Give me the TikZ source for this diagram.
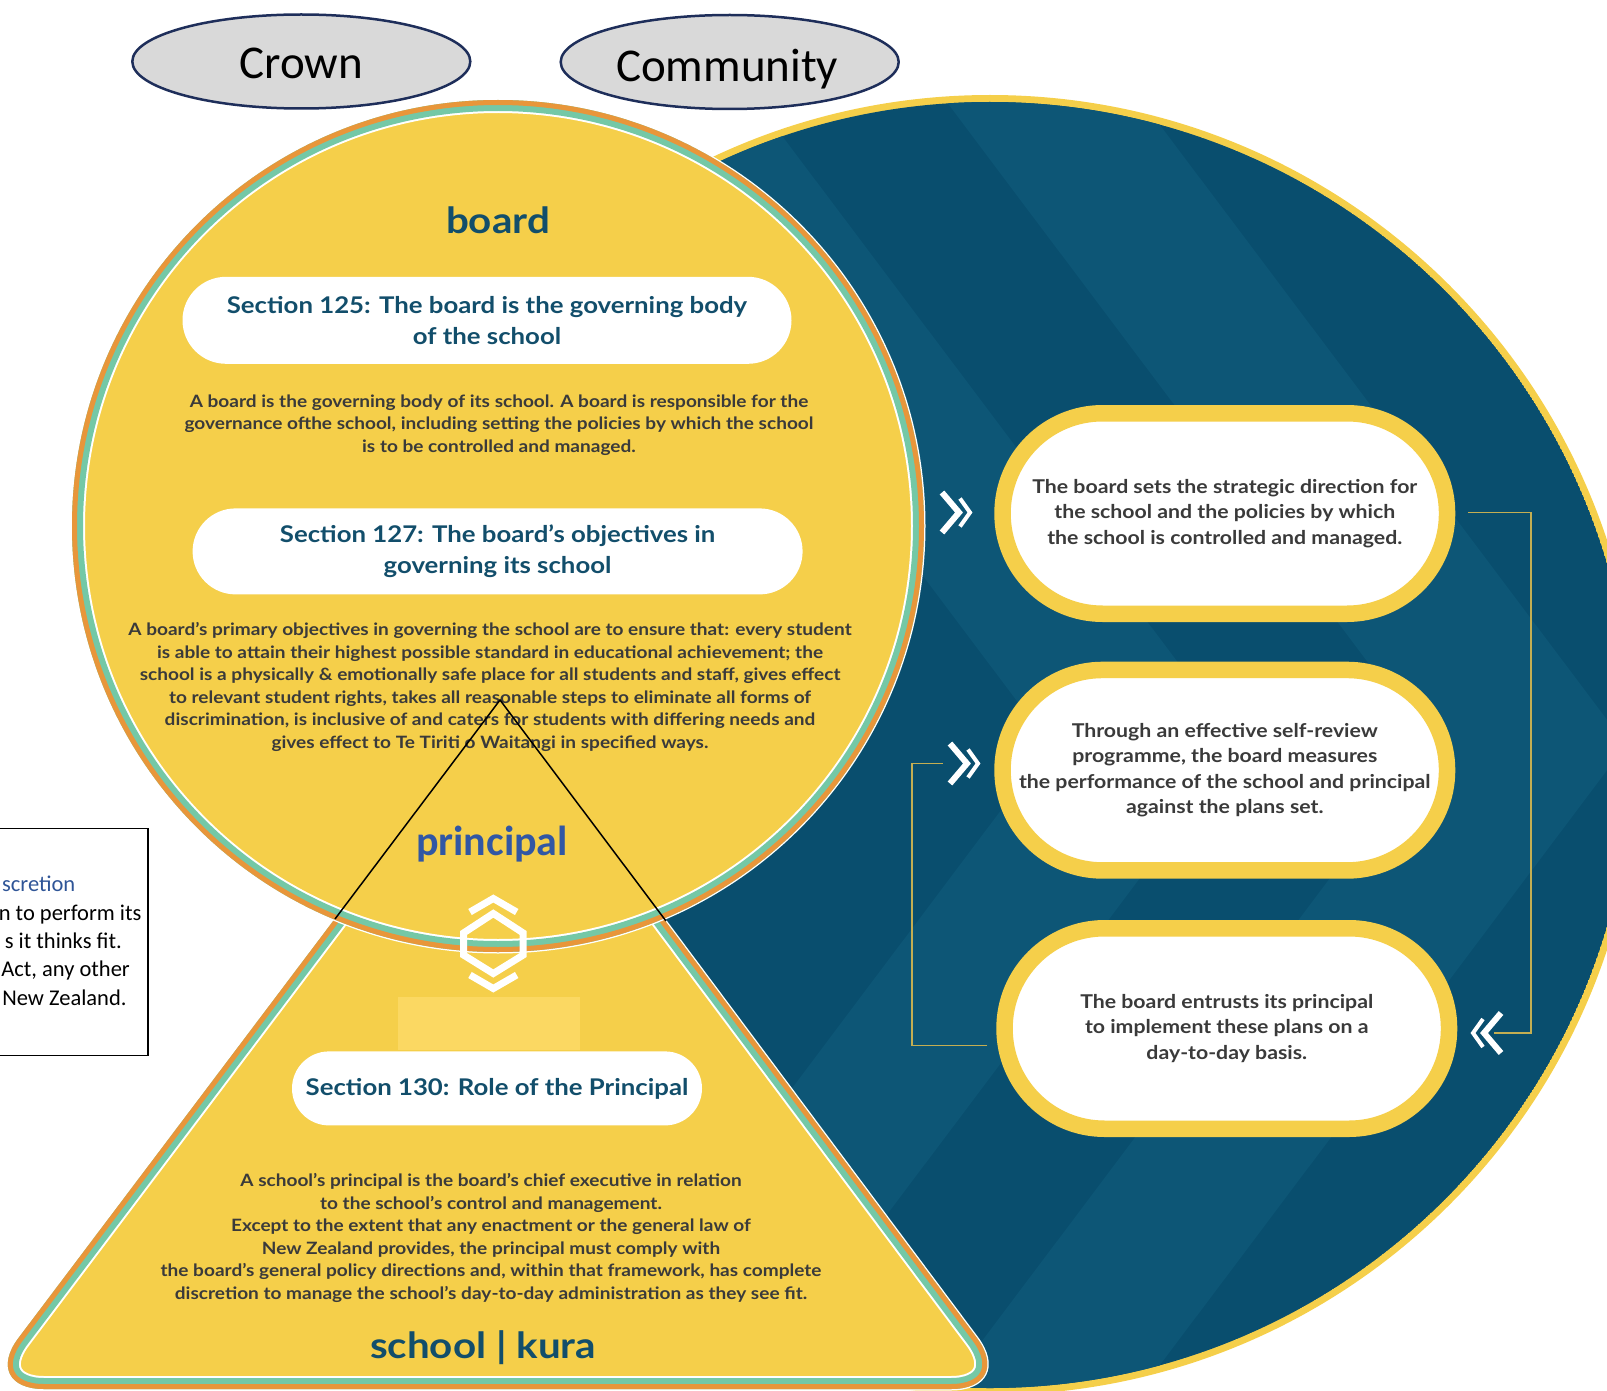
\documentclass[tikz,border=0pt]{standalone}
\usepackage{fontspec}
\setmainfont{Lato}[FakeStretch=1.12]
\newfontfamily\calfont{Carlito}
\usetikzlibrary{shapes.geometric}

\definecolor{bYellow}{HTML}{F5CF4A}
\definecolor{bOrange}{HTML}{E8963A}
\definecolor{bMint}{HTML}{74C8A6}
\definecolor{bNavy}{HTML}{094E6E}
\definecolor{bNavyLt}{HTML}{0D5676}
\definecolor{bTeal}{HTML}{124E6B}
\definecolor{bInk}{HTML}{3A3A3A}
\definecolor{bBlue}{HTML}{3157A4}
\definecolor{bHead}{HTML}{2F5597}
\definecolor{bGray}{HTML}{D9D9D9}
\definecolor{bEdge}{HTML}{1E2E5A}
\definecolor{bLink}{HTML}{C4AE52}
\definecolor{bPale}{HTML}{FBD862}

\tikzset{
  fwdmark/.pic={
    \draw[white, line width=6, miter limit=10] (-15,-20) -- (2,0) -- (-15,20);
    \draw[white, line width=4, miter limit=10] (3,-14) -- (13,0) -- (3,14);
  }
}

\begin{document}
\begin{tikzpicture}[x=1pt, y=-1pt,
  tri/.style={insert path={(500,700) -- (-20,1389) -- (1015,1389) -- cycle}},
  boardring/.style={insert path={(498,526) circle[radius=426]}},
  bluedisc/.style={insert path={(990,745) circle[radius=643]}},
  secpill/.style={fill=white, inner sep=0, align=center, text=bTeal,
    font=\fontsize{23}{31.5}\selectfont\bfseries},
  bodytext/.style={align=center, text=bInk, inner sep=0,
    font=\fontsize{17}{22.6}\selectfont\bfseries},
  titletext/.style={text=bTeal, inner sep=0, font=\fontsize{36}{40}\selectfont\bfseries},
  flowpill/.style={draw=bYellow, line width=16.5, fill=white, rounded corners=100,
    minimum width=444.5, minimum height=200.5, inner sep=0, align=center, text=bInk,
    font=\fontsize{19}{25.2}\selectfont\bfseries},
  link/.style={draw=bLink, line width=1.6},
  oval/.style={ellipse, draw=bEdge, line width=2.5, fill=bGray,
    minimum width=338, minimum height=94, inner sep=0},
  ovaltext/.style={inner sep=0, font=\calfont\fontsize{47}{50}\selectfont},
  boxtext/.style={anchor=base east, inner sep=0, font=\calfont\fontsize{22.5}{27}\selectfont},
]
\useasboundingbox (0,0) rectangle (1607,1391);
\clip (0,0) rectangle (1607,1391);

% ---------- the community disc with its chevron pattern ----------
\fill[bYellow] (990,745) circle[radius=650];
\begin{scope}
  \path[clip, bluedisc];
  \fill[bNavy, bluedisc];
  \foreach \a/\b in {1050/1240, 1430/1626, 1800/1990}
    \fill[bNavyLt] (\a-560,0) -- (\a,745) -- (\a-560,1490)
      -- (\b-560,1490) -- (\b,745) -- (\b-560,0) -- cycle;
\end{scope}

% ---------- school triangle ----------
\draw[white, line width=3, rounded corners=64, tri];
\fill[bYellow, rounded corners=64, tri];
\begin{scope}
  \path[clip, rounded corners=64, tri];
  \draw[white, line width=26, rounded corners=64, tri];
  \draw[bMint, line width=22, rounded corners=64, tri];
  \draw[bOrange, line width=10, rounded corners=64, tri];
\end{scope}

% ---------- board circle ----------
\draw[white, line width=3, boardring];
\fill[bYellow, boardring];
\begin{scope}
  \path[clip, boardring];
  \draw[white, line width=26, boardring];
  \draw[bMint, line width=22, boardring];
  \draw[bOrange, line width=10, boardring];
\end{scope}

% ---------- up/down emblem and pale band ----------
\fill[bPale] (398,997) rectangle (580,1050);
\draw[white, line width=7, miter limit=10] (470,912) -- (493.3,898.5) -- (516.7,912);
\draw[white, line width=7, line join=miter]
  (493.3,913.5) -- (463.5,933) -- (463.5,955) -- (493.3,973.5)
  -- (523.2,955) -- (523.2,933) -- cycle;
\draw[white, line width=7, miter limit=10] (470,975) -- (493.3,988.5) -- (516.7,975);

% ---------- board texts ----------
\node[titletext] (boardTitle) at (498,220) {board};
\node[secpill, minimum width=609, minimum height=87, rounded corners=43.5] (s125) at (487,320.3)
  {Section 125: The board is the governing body\\of the school};
\node[bodytext] (s125text) at (499,425)
  {A board is the governing body of its school. A board is responsible for the\\
   governance ofthe school, including setting the policies by which the school\\
   is to be controlled and managed.};
\node[secpill, minimum width=610, minimum height=86, rounded corners=43] (s127) at (497.6,551.4)
  {Section 127: The board’s objectives in\\governing its school};
\node[bodytext] (s127text) at (490,687)
  {A board’s primary objectives in governing the school are to ensure that: every student\\
   is able to attain their highest possible standard in educational  achievement; the\\
   school is a physically \& emotionally safe place for all students and staff, gives effect\\
   to relevant student rights, takes all reasonable steps to eliminate all forms of\\
   discrimination, is inclusive of and caters for students with differing needs and\\
   gives effect to Te Tiriti o Waitangi in specified ways.};
\node[inner sep=0, text=bBlue, font=\calfont\fontsize{42}{45}\selectfont\bfseries] (princ) at (492,844) {principal};

% ---------- school texts ----------
\node[secpill, minimum width=410, minimum height=74, rounded corners=37] (s130) at (497,1088.4)
  {Section 130: Role of the Principal};
\node[bodytext] (s130text) at (491,1238)
  {A school’s principal is the board’s chief executive in relation\\
   to the school’s control and management.\\
   Except to the extent that any enactment or the general law of\\
   New Zealand provides, the principal must comply with\\
   the board’s general policy directions and, within that framework, has complete\\
   discretion to manage the school’s day-to-day administration as they see fit.};
\node[titletext] (schoolTitle) at (483,1348) {school | kura};

% ---------- overlaid principal triangle ----------
\coordinate (tApex) at (500,700);
\coordinate (tLeft) at (335,919);
\coordinate (tRight) at (666,921);
\draw[black, line width=1.5] (tLeft) -- (tApex) -- (tRight);

% ---------- governance cycle ----------
\node[flowpill] (pA) at (1224.8,513.5)
  {The board sets the strategic direction for\\the school and the policies by which\\the school is controlled and managed.};
\node[flowpill] (pB) at (1224.8,770.2)
  {Through an effective self-review\\programme, the board measures\\the performance of the school and principal\\against the plans set.};
\node[flowpill] (pC) at (1226.8,1028.5)
  {The board entrusts its principal\\to implement these plans on a\\day-to-day basis.};

\coordinate (chevA) at (957,512.5);
\coordinate (chevB) at (965,763.5);
\coordinate (chevC) at (1486,1033);
\pic at (chevA) {fwdmark};
\pic at (chevB) {fwdmark};
\pic[xscale=-1] at (chevC) {fwdmark};

\coordinate (rTop) at (1531,512.5);
\coordinate (rBot) at (1531,1033);
\coordinate (lBot) at (912,1045.5);
\coordinate (lTop) at (912,763.5);
\draw[link] ([xshift=12.5]pA.east |- rTop) -- (rTop) -- (rBot) -- ([xshift=8]chevC);
\draw[link] ([xshift=-9]pC.west |- lBot) -- (lBot) -- (lTop) -- ([xshift=-22]chevB);

% ---------- Crown and Community ----------
\node[oval] (crownOval) at (301.3,61.5) {};
\node[ovaltext] (crown) at (301.3,63.5) {Crown};
\node[oval] (commOval) at (729.7,62) {};
\node[ovaltext] (comm) at (727.2,69) {Community};

% ---------- discretion text box ----------
\node[draw=black, line width=1.5, minimum width=170, minimum height=227, inner sep=0] (discbox) at (63,942) {};
\node[boxtext, text=bHead] (d1) at (75.5,891.5) {scretion};
\node[boxtext] (d2) at (141.7,920) {n to perform its};
\node[boxtext] (d3) at (122,948.3) {s it thinks fit.};
\node[boxtext] (d4) at (130,976.7) {Act, any other};
\node[boxtext] (d5) at (126.7,1005) {New Zealand.};
\end{tikzpicture}
\end{document}
